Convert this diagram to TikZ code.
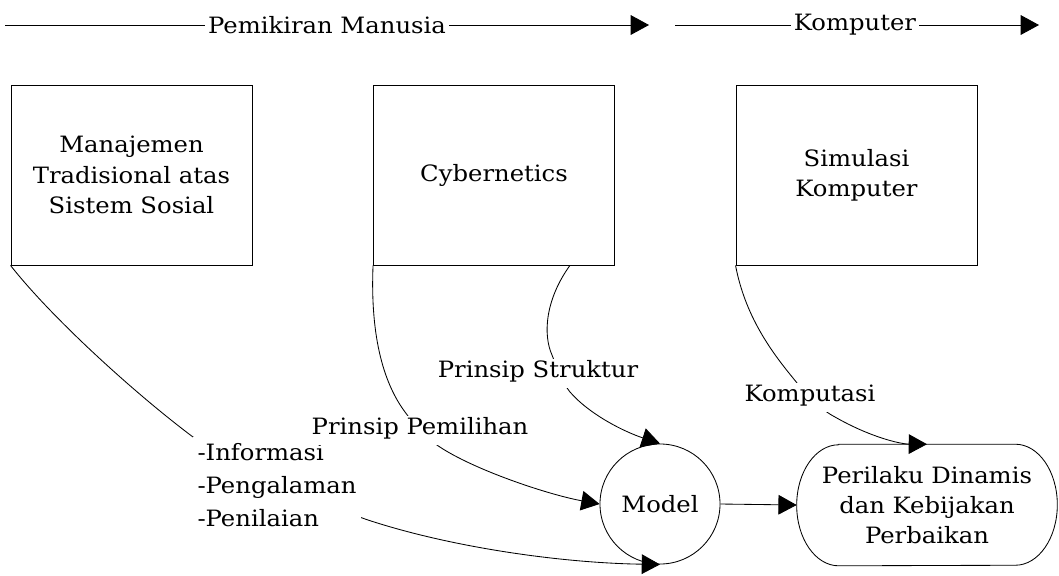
\documentclass[tikz,border=0pt]{standalone}
\usepackage{fontspec}
\setmainfont{DejaVu Serif}[FakeStretch=1.08]
\usetikzlibrary{arrows.meta}

\begin{document}
\begin{tikzpicture}[
  x=0.025cm, y=-0.025cm,
  every node/.style={font=\fontsize{16}{21.5}\selectfont},
  box/.style={draw, line width=0.6pt, minimum width=6.025cm, minimum height=4.5cm, align=center},
  wire/.style={line width=0.6pt},
  flow/.style={wire, -{Triangle[length=13pt,width=14pt]}},
  lbl/.style={fill=white, inner xsep=2pt, inner ysep=5pt, text height=0.75em, text depth=0.25em},
  title/.style={inner xsep=2pt}
]
\useasboundingbox (0,0) rectangle (1059,575);

% Header arrows.
\node[title] (pm) at (327,25) {Pemikiran Manusia};
\node[title] (kp) at (855,25) {Komputer};
\coordinate (pmA) at (5,25);
\coordinate (pmB) at (649,25);
\coordinate (kpA) at (675,25);
\coordinate (kpB) at (1039,25);
\draw[wire] (pmA) -- (pm.west);
\draw[flow] (pm.east) -- (pmB);
\draw[wire] (kpA) -- (kp.west);
\draw[flow] (kp.east) -- (kpB);

% Source boxes.
\node[box] (man) at (131.5,175) {Manajemen\\Tradisional atas\\Sistem Sosial};
\node[box] (cyb) at (494,175) {Cybernetics};
\node[box] (sim) at (856.5,175) {Simulasi\\Komputer};

% Model and result.
\node[draw, circle, line width=0.6pt, minimum size=3cm, inner sep=0pt] (model) at (660,504) {Model};
\node[minimum width=6.5cm, minimum height=3.025cm, align=center, inner sep=0pt] (perl) at (927,505)
  {Perilaku Dinamis\\dan Kebijakan\\Perbaikan};
\draw[wire] ([xshift=1.05cm]perl.north west) -- ([xshift=-1.05cm]perl.north east)
  arc[start angle=90, end angle=-90, x radius=1.05cm, y radius=1.5125cm]
  -- ([xshift=1.05cm]perl.south west)
  arc[start angle=270, end angle=90, x radius=1.05cm, y radius=1.5125cm] -- cycle;

% Connectors.
\draw[flow] (man.south west) .. controls (51,317) and (133,392) .. (193,437)
  .. controls (260,476) and (310,500) .. (368,520)
  .. controls (450,547) and (560,563) .. (model.south);
\draw[flow] (cyb.south west) .. controls (370,340) and (385,385) .. (405,412)
  .. controls (420,432) and (430,441) .. (443,449)
  .. controls (480,472) and (550,495) .. (model.west);
\draw[flow] (cyb.-50) .. controls (545,300) and (543,335) .. (552,355)
  .. controls (557,368) and (562,382) .. (570,392)
  .. controls (590,415) and (625,432) .. (model.north);
\draw[flow] (sim.south west) .. controls (745,315) and (770,350) .. (793,378)
  .. controls (805,393) and (818,408) .. (835,417)
  .. controls (870,437) and (900,444) .. (perl.north);
\draw[flow] (model.east) -- (perl.west);

% Labels on the connectors.
\node[fill=white, inner xsep=3pt, inner ysep=4pt, anchor=north west, align=left] (info) at (193,437)
  {-Informasi\\[2pt]-Pengalaman\\[2pt]-Penilaian};
\node[lbl] (pem) at (420,430.5) {Prinsip Pemilihan};
\node[lbl] (str) at (538,373.5) {Prinsip Struktur};
\node[lbl] (kom) at (810,397.5) {Komputasi};
\end{tikzpicture}
\end{document}
